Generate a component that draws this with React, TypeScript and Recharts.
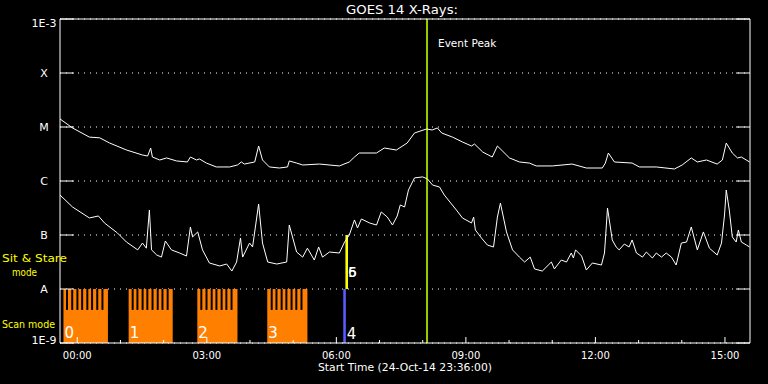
import React from "react";
import {
  LineChart,
  Line,
  XAxis,
  YAxis,
  CartesianGrid,
  ReferenceLine,
  ReferenceArea,
} from "recharts";

const FONT = "'DejaVu Sans', sans-serif";

// time in hours from 00:00 on 25-Oct-14 (plot starts 23:36 the day before)
const timeDomain = [-0.4, 15.58];
const hourTicks = [0, 1, 2, 3, 4, 5, 6, 7, 8, 9, 10, 11, 12, 13, 14, 15];
const hourLabels = ["00:00", "03:00", "06:00", "09:00", "12:00", "15:00"];

const fluxTicks = [1e-9, 1e-8, 1e-7, 1e-6, 1e-5, 1e-4, 1e-3];
const fluxLabels = ["1E-9", "A", "B", "C", "M", "X", "1E-3"];

// 1-8 A channel (upper curve)
const longTime = [
  -0.4, -0.11, 0.28, 0.52, 0.75, 1.14, 1.51, 1.63, 1.7, 1.74,
  1.91, 2.07, 2.3, 2.55, 2.62, 2.76, 2.83, 2.99, 3.22, 3.53,
  3.71, 3.8, 3.87, 4.11, 4.2, 4.29, 4.45, 4.68, 4.87, 4.91,
  5.08, 5.22, 5.61, 6.07, 6.3, 6.42, 6.53, 6.93, 7.11, 7.39,
  7.64, 7.81, 8.09, 8.22, 8.34, 8.44, 8.69, 8.92, 9.13, 9.2,
  9.39, 9.61, 9.73, 10.01, 10.24, 10.47, 10.63, 11.0, 11.46, 11.79,
  12.16, 12.23, 12.3, 12.44, 12.85, 13.02, 13.41, 13.83, 14.01, 14.22,
  14.36, 14.57, 14.82, 14.94, 15.03, 15.17, 15.29, 15.38, 15.57,
];
const longFlux = [
  1.41e-5, 9.6e-6, 6.5e-6, 6.3e-6, 5.05e-6, 3.75e-6, 3.03e-6, 2.9e-6, 4.08e-6, 2.78e-6,
  2.45e-6, 2.67e-6, 2.35e-6, 2.25e-6, 2.78e-6, 2.45e-6, 2.56e-6, 2.15e-6, 1.82e-6, 1.82e-6,
  1.98e-6, 2.25e-6, 2.06e-6, 2.25e-6, 4.45e-6, 2.45e-6, 1.82e-6, 1.74e-6, 1.82e-6, 2.35e-6,
  2.15e-6, 1.98e-6, 2.06e-6, 1.9e-6, 2.25e-6, 2.78e-6, 3.3e-6, 3.3e-6, 4.08e-6, 3.75e-6,
  5.05e-6, 7.74e-6, 9.2e-6, 8.8e-6, 9.6e-6, 7.74e-6, 6.5e-6, 5.28e-6, 4.45e-6, 4.84e-6,
  3.44e-6, 2.78e-6, 4.45e-6, 2.67e-6, 2.25e-6, 2.15e-6, 1.9e-6, 1.9e-6, 2.06e-6, 1.74e-6,
  1.74e-6, 2.15e-6, 3.3e-6, 2.25e-6, 2.15e-6, 1.82e-6, 1.82e-6, 1.67e-6, 1.98e-6, 2.67e-6,
  2.25e-6, 2.45e-6, 2.06e-6, 2.45e-6, 5.05e-6, 3.3e-6, 2.67e-6, 2.78e-6, 2.25e-6,
];

// 0.5-4 A channel (lower curve)
const shortTime = [
  -0.4, -0.11, 0.28, 0.49, 0.63, 0.93, 1.14, 1.4, 1.51, 1.6,
  1.67, 1.72, 1.84, 1.95, 2.04, 2.18, 2.37, 2.53, 2.62, 2.67,
  2.79, 2.9, 3.06, 3.3, 3.46, 3.58, 3.69, 3.78, 3.83, 3.99,
  4.06, 4.2, 4.29, 4.41, 4.62, 4.85, 4.91, 5.08, 5.22, 5.33,
  5.49, 5.59, 5.68, 5.84, 6.07, 6.19, 6.3, 6.42, 6.49, 6.58,
  6.77, 6.93, 7.04, 7.18, 7.3, 7.41, 7.48, 7.58, 7.67, 7.81,
  8.0, 8.11, 8.23, 8.39, 8.5, 8.78, 8.92, 9.13, 9.18, 9.22,
  9.36, 9.5, 9.64, 9.73, 9.8, 9.94, 10.08, 10.24, 10.36, 10.49,
  10.59, 10.77, 10.98, 11.05, 11.21, 11.33, 11.44, 11.49, 11.54, 11.68,
  11.79, 11.93, 12.14, 12.21, 12.28, 12.39, 12.48, 12.55, 12.67, 12.78,
  12.85, 12.95, 13.09, 13.18, 13.32, 13.41, 13.53, 13.64, 13.76, 13.87,
  13.99, 14.11, 14.22, 14.36, 14.5, 14.64, 14.82, 14.92, 14.99, 15.03,
  15.1, 15.17, 15.26, 15.31, 15.38, 15.5, 15.57,
];
const shortFlux = [
  5.5e-7, 3.3e-7, 2.07e-7, 2.25e-7, 1.67e-7, 1.09e-7, 7.4e-8, 5.3e-8, 7.1e-8, 5.7e-8,
  2.9e-7, 5.3e-8, 4.26e-8, 3.9e-8, 7.74e-8, 5.3e-8, 4.64e-8, 4.08e-8, 1.41e-7, 9.2e-8,
  1.14e-7, 5.3e-8, 3.03e-8, 2.67e-8, 2.9e-8, 2.15e-8, 3.16e-8, 8.8e-8, 3.9e-8, 7.1e-8,
  6.0e-8, 3.75e-7, 7.1e-8, 3.16e-8, 2.9e-8, 3.16e-8, 1.53e-7, 4.84e-8, 3.9e-8, 5.7e-8,
  3.44e-8, 6.0e-8, 3.9e-8, 4.84e-8, 4.64e-8, 7.4e-8, 1.0e-7, 1.9e-7, 1.35e-7, 1.98e-7,
  1.67e-7, 1.53e-7, 2.67e-7, 2.15e-7, 1.53e-7, 2.25e-7, 3.6e-7, 3.3e-7, 6.8e-7, 1.14e-6,
  1.19e-6, 1.09e-6, 8.4e-7, 7.74e-7, 5.5e-7, 2.9e-7, 2.07e-7, 1.67e-7, 2.15e-7, 1.24e-7,
  8.8e-8, 6.5e-8, 6.0e-8, 2.15e-7, 3.9e-7, 1.14e-7, 5.3e-8, 3.9e-8, 3.16e-8, 3.9e-8,
  2.35e-8, 2.15e-8, 3.16e-8, 2.35e-8, 3.44e-8, 3.16e-8, 4.64e-8, 3.75e-8, 5.3e-8, 4.08e-8,
  2.25e-8, 3.03e-8, 2.78e-8, 4.64e-8, 3.16e-7, 8.1e-8, 6.0e-8, 5.3e-8, 6.8e-8, 6.0e-8,
  8.1e-8, 4.64e-8, 3.9e-8, 4.84e-8, 3.75e-8, 4.64e-8, 3.9e-8, 4.64e-8, 3.9e-8, 2.78e-8,
  7.1e-8, 7.4e-8, 1.41e-7, 5.3e-8, 1.14e-7, 5.7e-8, 4.26e-8, 7.1e-8, 2.35e-7, 6.8e-7,
  2.9e-7, 9.2e-8, 7.4e-8, 1.24e-7, 7.4e-8, 6.5e-8, 6.0e-8,
];

// scan mode windows
const scanLabels = ["0", "1", "2", "3"];
const scanStart = [-0.32, 1.19, 2.78, 4.4];
const scanEnd = [0.71, 2.21, 3.71, 5.33];
const scanGaps = [
  -0.26, -0.14, -0.02, 0.09, 0.21, 0.32, 0.44, 0.56,
  1.26, 1.37, 1.49, 1.6, 1.72, 1.84, 1.95, 2.07,
  2.85, 2.97, 3.09, 3.2, 3.32, 3.43, 3.55,
  4.48, 4.59, 4.71, 4.82, 4.94, 5.05, 5.17,
];
const gapWidth = 0.046;
const scanTop = 1e-8;
const scanBase = 4.1e-9;

// sit & stare markers
const scanMarkTime = [6.16, 6.22]; // "4"
const stareMarkTime = [6.21, 6.27]; // "5" / "6"
const eventPeak = 8.1;

const longData = longTime.map((t, i) => ({ t, flux: longFlux[i] }));
const shortData = shortTime.map((t, i) => ({ t, flux: shortFlux[i] }));

function BottomTick(props: any) {
  const { x, y, payload } = props;
  const h = payload.value as number;
  const major = h % 3 === 0;
  return (
    <g>
      <line x1={x} x2={x} y1={y} y2={y - (major ? 6 : 3)} stroke="#fff" />
      {major && (
        <text x={x} y={y + 16} textAnchor="middle" fill="#fff" fontSize={10} fontFamily={FONT}>
          {hourLabels[h / 3]}
        </text>
      )}
    </g>
  );
}

function TopTick(props: any) {
  const { x, y, payload } = props;
  const major = (payload.value as number) % 3 === 0;
  return <line x1={x} x2={x} y1={y} y2={y + (major ? 6 : 4)} stroke="#fff" />;
}

function LeftTick(props: any) {
  const { x, y, index } = props;
  const dy = index === 0 ? -3 : index === fluxTicks.length - 1 ? 4 : 0;
  return (
    <g>
      <line x1={x} x2={x + 14} y1={y} y2={y} stroke="#fff" />
      <text
        x={x - 16}
        y={y + dy}
        textAnchor="middle"
        dominantBaseline="central"
        fill="#fff"
        fontSize={11}
        fontFamily={FONT}
      >
        {fluxLabels[index]}
      </text>
    </g>
  );
}

function RightTick(props: any) {
  const { x, y } = props;
  return <line x1={x - 14} x2={x} y1={y} y2={y} stroke="#fff" />;
}

const blockLabel = (text: string) => (props: any) => {
  const vb = props.viewBox;
  return (
    <text x={vb.x + 1} y={vb.y + vb.height - 5} fill="#fff" fontSize={15} fontFamily={FONT}>
      {text}
    </text>
  );
};

export default function App() {
  return (
    <div style={{ position: "absolute", left: 0, top: 0, width: 768, height: 384, background: "#000" }}>
      <LineChart width={768} height={384} margin={{ top: 0, right: 0, bottom: 0, left: 0 }}>
        <CartesianGrid horizontal vertical={false} stroke="#fff" strokeDasharray="1 5" />
        <XAxis
          dataKey="t"
          type="number"
          domain={timeDomain}
          allowDataOverflow
          ticks={hourTicks}
          interval={0}
          height={41}
          tickSize={0}
          tickMargin={0}
          tickLine={false}
          axisLine={{ stroke: "#fff" }}
          tick={<BottomTick />}
        />
        <XAxis
          xAxisId="top"
          orientation="top"
          type="number"
          domain={timeDomain}
          allowDataOverflow
          ticks={hourTicks}
          interval={0}
          height={19}
          tickSize={0}
          tickMargin={0}
          tickLine={false}
          axisLine={{ stroke: "#fff" }}
          tick={<TopTick />}
        />
        <YAxis
          type="number"
          scale="log"
          domain={[1e-9, 1e-3]}
          allowDataOverflow
          ticks={fluxTicks}
          interval={0}
          width={60}
          tickSize={0}
          tickMargin={0}
          tickLine={false}
          axisLine={{ stroke: "#fff" }}
          tick={<LeftTick />}
        />
        <YAxis
          yAxisId="right"
          orientation="right"
          type="number"
          scale="log"
          domain={[1e-9, 1e-3]}
          allowDataOverflow
          ticks={fluxTicks}
          interval={0}
          width={18}
          tickSize={0}
          tickMargin={0}
          tickLine={false}
          axisLine={{ stroke: "#fff" }}
          tick={<RightTick />}
        />

        {scanLabels.map((lab, i) => (
          <ReferenceArea
            key={"scan" + lab}
            x1={scanStart[i]}
            x2={scanEnd[i]}
            y1={1e-9}
            y2={scanTop}
            fill="#ff8000"
            fillOpacity={1}
            stroke="none"
            ifOverflow="visible"
            label={blockLabel(lab)}
          />
        ))}
        {scanGaps.map((g) => (
          <ReferenceArea
            key={"gap" + g}
            x1={g}
            x2={g + gapWidth}
            y1={scanBase}
            y2={scanTop}
            fill="#000"
            fillOpacity={1}
            stroke="none"
          />
        ))}
        <ReferenceArea
          x1={scanMarkTime[0]}
          x2={scanMarkTime[1]}
          y1={1e-9}
          y2={1e-8}
          fill="#5a5aff"
          fillOpacity={1}
          stroke="none"
          label={(p: any) => (
            <text x={p.viewBox.x + p.viewBox.width + 1} y={p.viewBox.y + p.viewBox.height - 4} fill="#fff" fontSize={15} fontFamily={FONT}>
              4
            </text>
          )}
        />
        <ReferenceArea
          x1={stareMarkTime[0]}
          x2={stareMarkTime[1]}
          y1={1e-8}
          y2={1e-7}
          fill="#ffff00"
          fillOpacity={1}
          stroke="none"
          label={(p: any) => (
            <g fill="#fff" fontSize={14} fontFamily={FONT}>
              <text x={p.viewBox.x + p.viewBox.width} y={p.viewBox.y + 42}>5</text>
              <text x={p.viewBox.x + p.viewBox.width} y={p.viewBox.y + 42}>6</text>
            </g>
          )}
        />
        <ReferenceLine
          x={eventPeak}
          stroke="#99cc00"
          strokeWidth={2}
          label={(p: any) => (
            <text x={p.viewBox.x + 11} y={p.viewBox.y + 28} fill="#fff" fontSize={10.5} fontFamily={FONT}>
              Event Peak
            </text>
          )}
        />

        <Line data={longData} dataKey="flux" stroke="#fff" strokeWidth={1} dot={false} isAnimationActive={false} />
        <Line data={shortData} dataKey="flux" stroke="#fff" strokeWidth={1} dot={false} isAnimationActive={false} />
      </LineChart>

      <svg width={768} height={384} style={{ position: "absolute", left: 0, top: 0, pointerEvents: "none" }}>
        <text x={346} y={14} fill="#fff" fontSize={12} fontFamily={FONT} textLength={112} lengthAdjust="spacingAndGlyphs">
          GOES 14 X-Rays:
        </text>
        <text x={318} y={371} fill="#fff" fontSize={10} fontFamily={FONT} textLength={174} lengthAdjust="spacingAndGlyphs">
          Start Time (24-Oct-14 23:36:00)
        </text>
        <text x={2} y={262} fill="#ffff00" fontSize={10.5} fontFamily={FONT} textLength={65} lengthAdjust="spacingAndGlyphs">
          Sit &amp; Stare
        </text>
        <text x={12} y={276} fill="#ffff00" fontSize={10.5} fontFamily={FONT} textLength={25} lengthAdjust="spacingAndGlyphs">
          mode
        </text>
        <text x={2} y={328} fill="#ffff00" fontSize={10.5} fontFamily={FONT} textLength={53} lengthAdjust="spacingAndGlyphs">
          Scan mode
        </text>
      </svg>
    </div>
  );
}
